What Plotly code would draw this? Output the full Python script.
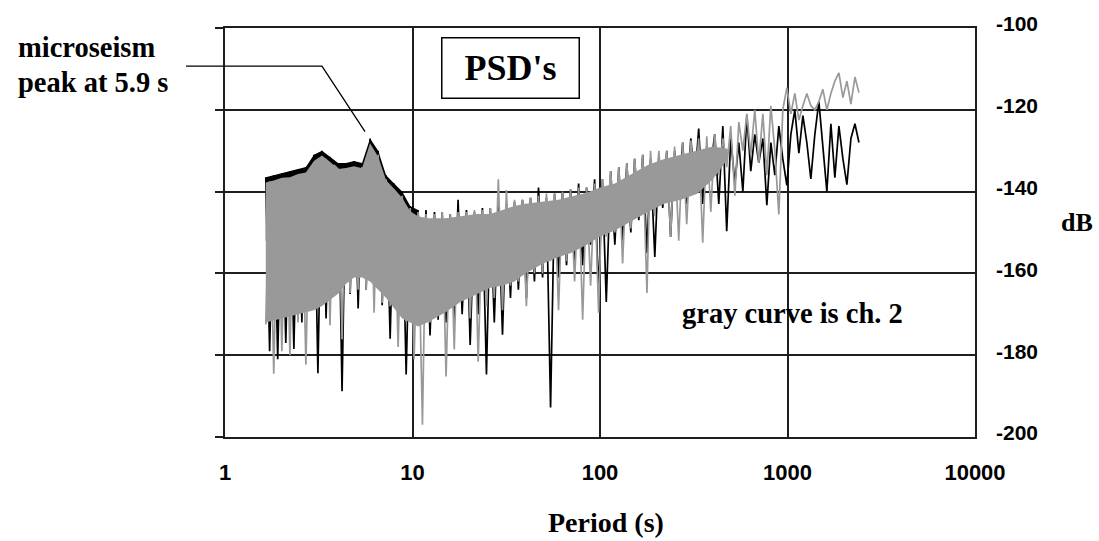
import plotly.graph_objects as go

# ---------------- data ----------------
period = [1.65, 1.73, 1.82, 1.91, 2.01, 2.11, 2.22, 2.33, 2.45, 2.57,
          2.70, 2.84, 2.98, 3.13, 3.29, 3.46, 3.63, 3.81, 4.01, 4.21,
          4.42, 4.65, 4.88, 5.13, 5.38, 5.66, 5.94, 6.24, 6.56, 6.89,
          7.23, 7.60, 7.98, 8.38, 8.81, 9.25, 9.72, 10.2, 10.7, 11.3,
          11.8, 12.4, 13.1, 13.7, 14.4, 15.1, 15.9, 16.7, 17.5, 18.4,
          19.4, 20.3, 21.4, 22.4, 23.6, 24.8, 26.0, 27.3, 28.7, 30.2,
          31.7, 33.3, 35.0, 36.7, 38.6, 40.5, 42.6, 44.7, 47.0, 49.4,
          51.8, 54.5, 57.2, 60.1, 63.1, 66.3, 69.7, 73.2, 76.9, 80.8,
          84.8, 89.1, 93.6, 98.3, 103, 108, 114, 120, 126, 132,
          139, 146, 153, 161, 169, 178, 186, 196, 206, 216,
          227, 238, 250, 263, 276, 290, 305, 320, 336, 353,
          371, 390, 409, 430, 452, 474, 498, 524, 550, 578,
          607, 637, 669, 703, 739, 776, 815, 856, 899, 944,
          992, 1042, 1094, 1150, 1208, 1268, 1332, 1399, 1470, 1544,
          1622, 1704, 1789, 1880, 1975, 2074, 2179, 2289, 2404]

# channel 1 (black curve), dB
ch1_db = [-136.5, -179, -136, -181, -135.5, -177, -135, -178.5, -134.5, -172,
          -134, -168, -131, -184.4, -130, -171, -131.5, -163, -133, -188.8,
          -133, -165, -132.5, -168.6, -133, -164, -127, -160, -130, -167.8,
          -136, -176, -138, -169, -140, -184.7, -143.5, -168, -144.5, -165,
          -144.5, -175.2, -145, -171.3, -145, -172, -145.5, -172, -142, -170,
          -144.5, -177.5, -145, -170, -144, -184.7, -144, -172, -143.5, -175,
          -143, -166, -142.5, -164, -142, -166, -141.5, -162, -139, -161,
          -141.5, -192.8, -140.5, -161, -140, -158, -139.5, -157, -138, -158,
          -139, -153, -137, -164.8, -137, -167, -135, -153, -134, -152,
          -133, -150, -132, -147, -131, -155, -132, -156, -131, -144,
          -130, -151, -130, -141, -128, -143, -127, -138, -124.6, -143,
          -129, -134, -126, -143, -124, -149.7, -127, -138, -128, -140,
          -121.4, -135, -126, -133, -127, -143.3, -128, -136, -124, -132,
          -138.5, -126, -120, -130.6, -121.4, -128, -136.9, -126, -118, -130,
          -140, -123.4, -136.6, -124, -132, -138.3, -127, -123.4, -128]

# channel 2 (gray curve), dB
ch2_db = [-172.5, -137.5, -184.5, -137.5, -179, -137, -180, -137, -172, -136.5,
          -182.3, -136, -168.6, -133, -167, -132, -172.7, -133.5, -134.5, -176.1,
          -134.5, -164.8, -134, -164, -134, -164, -129, -169.6, -131, -167.2,
          -137, -168, -139.5, -178, -141, -171.8, -144, -181, -145, -197,
          -145.5, -172, -145.5, -168, -145, -185.2, -145.5, -178.6, -145, -166,
          -145, -171, -144.5, -181.6, -144.5, -168, -144, -166, -137, -169,
          -139.6, -163, -142, -162, -142, -168, -141.5, -160, -141, -160,
          -140.5, -157, -140.5, -169, -140, -157, -139.5, -162, -139, -171.3,
          -139, -163, -138, -169.6, -137, -151, -135, -150, -134, -157.6,
          -133, -149, -132, -146, -131, -164.8, -130, -146, -130, -143,
          -130, -151, -129, -152, -128, -148, -127.5, -140, -127, -152.5,
          -126.5, -145, -126, -136, -127, -134, -124, -141, -123, -130,
          -121, -131, -120, -133, -121, -136, -119, -130, -145.6, -120,
          -114.6, -121, -116, -122.5, -119, -116, -119, -120, -118, -115,
          -120, -116, -113, -111, -117, -113, -118.6, -112, -115.8]

# dense part of the gray curve: upper / lower envelope
band_period = [1.65, 1.82, 2.01, 2.22, 2.45, 2.70, 2.98, 3.29, 3.63, 4.01,
               4.42, 4.88, 5.38, 5.94, 6.56, 7.23, 7.98, 8.81, 9.72, 10.7,
               12, 15, 18, 22, 26, 30, 35, 40, 50, 60,
               70, 85, 100, 120, 150, 180, 220, 270, 330, 400, 480]
band_top = [-137.8, -137.3, -136.6, -136.5, -135.7, -135.3, -132.5, -131.2, -132.7, -134.5,
            -134.2, -133.8, -134.3, -128.2, -131.5, -137.2, -139.3, -141.5, -144.8, -146,
            -146.5, -146.5, -146, -145.5, -145.5, -144.5, -143.5, -143, -142.5, -142,
            -141.2, -140.3, -139, -138, -135.5, -133.5, -132, -131, -130, -129, -129.5]
band_bottom = [-172, -171.5, -171, -170.5, -170, -169.5, -169, -168, -166.5, -165,
               -162.5, -161, -161, -162, -164, -166, -168.5, -171, -172, -173,
               -172, -169.5, -167, -165, -163.5, -163, -162, -160, -157.5, -156,
               -155, -153, -151, -149.5, -147, -145, -143, -142, -140.5, -137, -132]

y_ticks = [-200, -180, -160, -140, -120, -100]
x_ticks = [1, 10, 100, 1000, 10000]

# ---------------- figure ----------------
GRAY = '#999999'
GRID = '#1e1e1e'
SERIF = 'Liberation Serif, Times New Roman, serif'
SANS = 'Liberation Sans Narrow, Liberation Sans, Arial, sans-serif'

fig = go.Figure()

# black top crust of channel 1 in the dense part (peaks of ch1)
crust_floor = -152
crust_x = period[0:39:2] + [period[38], period[0]]
crust_y = ch1_db[0:39:2] + [crust_floor, crust_floor]
fig.add_trace(go.Scatter(x=crust_x, y=crust_y, mode='lines', fill='toself',
                         fillcolor='black', line=dict(width=0, color='black'),
                         hoverinfo='skip'))
# channel 1
fig.add_trace(go.Scatter(x=period, y=ch1_db, mode='lines',
                         line=dict(color='black', width=1.7), name='ch. 1'))
# gray dense band of channel 2
fig.add_trace(go.Scatter(x=band_period, y=band_bottom, mode='lines',
                         line=dict(width=0, color=GRAY), hoverinfo='skip'))
fig.add_trace(go.Scatter(x=band_period, y=band_top, mode='lines', fill='tonexty',
                         fillcolor=GRAY, line=dict(width=0, color=GRAY), hoverinfo='skip'))
# channel 2
fig.add_trace(go.Scatter(x=period, y=ch2_db, mode='lines',
                         line=dict(color=GRAY, width=1.7), name='ch. 2'))
# dummy trace for right-hand label axis
fig.add_trace(go.Scatter(x=[None], y=[None], yaxis='y2', hoverinfo='skip'))

txt = dict(family=SERIF, color='black', weight='bold')

fig.update_layout(
    width=1099, height=541,
    margin=dict(l=225, r=124, t=19, b=104, pad=0),
    paper_bgcolor='white', plot_bgcolor='white',
    showlegend=False,
    xaxis=dict(type='log', range=[0, 4], tickvals=x_ticks,
               ticktext=[str(v) for v in x_ticks],
               showgrid=True, gridcolor=GRID, gridwidth=1.5,
               showline=True, linecolor=GRID, linewidth=1.5, mirror=True,
               ticks='', ticklabelstandoff=15, zeroline=False,
               tickfont=dict(family=SANS, size=22, color='black', weight='bold')),
    yaxis=dict(range=[-200, -100], tickvals=y_ticks, showticklabels=False,
               ticks='outside', ticklen=8, tickwidth=1.5, tickcolor=GRID,
               showgrid=True, gridcolor=GRID, gridwidth=1.5,
               showline=True, linecolor=GRID, linewidth=1.5, mirror=True,
               zeroline=False),
    yaxis2=dict(overlaying='y', side='right', range=[-200, -100],
                tickvals=y_ticks, ticktext=[str(v) for v in y_ticks],
                showgrid=False, showline=False, zeroline=False, ticks='',
                ticklabelstandoff=20, ticklabelshift=-4,
                tickfont=dict(family=SANS, size=21, color='black', weight='bold')),
    annotations=[
        dict(text='microseism', xref='paper', yref='paper',
             x=-0.2787, y=0.953, xanchor='left', yanchor='middle', align='left',
             showarrow=False, font=dict(size=28.5, **txt)),
        dict(text='peak at 5.9 s', xref='paper', yref='paper',
             x=-0.2787, y=0.867, xanchor='left', yanchor='middle', align='left',
             showarrow=False, font=dict(size=28.5, **txt)),
        dict(text="PSD's", xref='paper', yref='paper', x=0.3807, y=0.902,
             xanchor='center', yanchor='middle', showarrow=False,
             width=133, height=56, borderpad=1.5, borderwidth=1.5,
             bordercolor='black', bgcolor='white',
             font=dict(size=36, **txt)),
        dict(text='gray curve is ch. 2', xref='paper', yref='paper',
             x=0.757, y=0.301, xanchor='center', yanchor='middle', showarrow=False,
             font=dict(size=28.5, **txt)),
        dict(text='Period (s)', xref='paper', yref='paper', x=0.508, y=-0.209,
             xanchor='center', yanchor='middle', showarrow=False,
             font=dict(size=28, **txt)),
        dict(text='dB', xref='paper', yref='paper', x=1.136, y=0.524,
             xanchor='center', yanchor='middle', showarrow=False,
             font=dict(size=26, **txt)),
    ],
    shapes=[
        dict(type='path', xref='paper', yref='paper',
             path='M -0.052,0.9067 L 0.1293,0.9067 L 0.1867,0.7464',
             line=dict(color='black', width=1.3)),
    ],
)

fig.write_html('out.html', config={'displayModeBar': False},
               post_script="document.body.style.margin='0px';")
